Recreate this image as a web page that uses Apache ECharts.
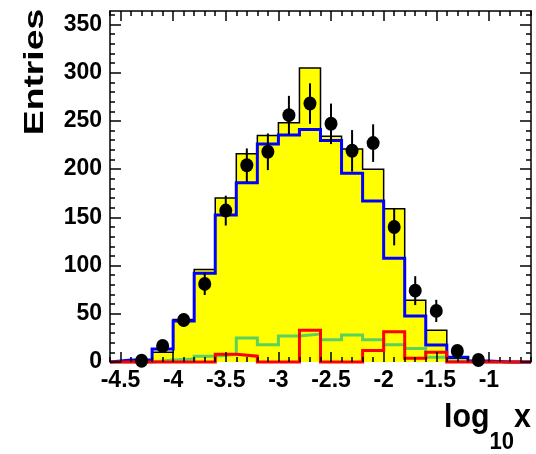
<!DOCTYPE html>
<html><head><meta charset="utf-8">
<script src="https://cdn.jsdelivr.net/npm/echarts@6/dist/echarts.min.js"></script>
<style>html,body{margin:0;padding:0;background:#fff}#c{width:536px;height:454px}</style>
</head><body><div id="c"></div>
<script>
// bin edges of log10(x) histogram (20 bins)
const binEdges = [-4.6,-4.4,-4.2,-4.0,-3.8,-3.6,-3.4,-3.2,-3.0,-2.8,-2.6,-2.4,-2.2,-2.0,-1.8,-1.6,-1.4,-1.2,-1.0,-0.8,-0.6];
// histogram contents per bin
const yellowHist = [0,1,10,44,96,170,216,235,248,305,234,221,200,159,64,33,4,1,0,0];
const blueHist   = [2,2,13.5,42.5,92,152.5,186,226,235.5,241,229.6,195.7,167,107.6,47.7,17.6,5,1,0,0];
const greenHist  = [0,0,2,3,6,8,25,18,27,29,23,28,23,18,14,5,1,0,0,0];
const redHist    = [0,0,0,0,0,8,6,0,0,33,0,0,12,31.5,4,10,0,0,0,0];
// data points (bin centres), values and errors
const dataX   = [-4.3,-4.1,-3.9,-3.7,-3.5,-3.3,-3.1,-2.9,-2.7,-2.5,-2.3,-2.1,-1.9,-1.7,-1.5,-1.3,-1.1];
const dataY   = [1.3,16.6,43.6,81,157,204,218,256,268,247,219,227,140,74,53,11.4,2];
const dataErr = [1,4,7,11.5,15.5,17.5,19,20,21,21,21.5,19.5,19,15,11.5,4,1.5];
// axis ticks
const xTicks = [-4.5,-4,-3.5,-3,-2.5,-2,-1.5,-1];
const yTicks = [0,50,100,150,200,250,300,350];
const xRange = [-4.6, -0.6];
const yRange = [0, 364];

function stepData(vals) {
  const out = [[binEdges[0], 0]];
  for (let i = 0; i < vals.length; i++) out.push([binEdges[i], vals[i]]);
  out.push([binEdges[binEdges.length - 1], vals[vals.length - 1]]);
  out.push([binEdges[binEdges.length - 1], 0]);
  return out;
}
const xMinor = [];
for (let k = -46; k <= -6; k++) xMinor.push(k / 10);
const yMinor = [];
for (let v = 0; v <= 360; v += 10) yMinor.push(v);

const FONT = "'Liberation Sans', Arial, Helvetica, sans-serif";
const tickLine = { color: '#000', width: 1.5 };

function xAx(pos, ticks, len, showLine, showLabel) {
  return {
    type: 'value', position: pos, min: xRange[0], max: xRange[1], z: 10,
    axisLine: { show: showLine, onZero: false, lineStyle: { color: '#000', width: 1.5 } },
    axisTick: { show: true, inside: true, length: len, customValues: ticks, lineStyle: tickLine },
    axisLabel: showLabel ? {
      show: true, customValues: ticks, color: '#000', fontFamily: FONT, fontWeight: 'bold',
      fontSize: 23, margin: 7
    } : { show: false },
    splitLine: { show: false }
  };
}
function yAx(pos, ticks, len, showLine, showLabel) {
  return {
    type: 'value', position: pos, min: yRange[0], max: yRange[1], z: 10,
    axisLine: { show: showLine, onZero: false, lineStyle: { color: '#000', width: 1.5 } },
    axisTick: { show: true, inside: true, length: len, customValues: ticks, lineStyle: tickLine },
    axisLabel: showLabel ? {
      show: true, customValues: ticks, color: '#000', fontFamily: FONT, fontWeight: 'bold',
      fontSize: 23, margin: 8
    } : { show: false },
    splitLine: { show: false }
  };
}

function histLine(name, vals, color, width, z, area) {
  const s = {
    name: name, type: 'line', step: 'end', data: stepData(vals), showSymbol: false,
    symbol: 'none', clip: false, z: z, silent: true,
    lineStyle: { color: color, width: width, join: 'miter', cap: 'butt' }
  };
  if (area) s.areaStyle = { color: area, opacity: 1 };
  return s;
}

const chart = echarts.init(document.getElementById('c'), null, { renderer: 'canvas' });
chart.setOption({
  animation: false,
  backgroundColor: '#fff',
  grid: { left: 110, right: 5, top: 11, bottom: 92, containLabel: false },
  xAxis: [
    xAx('bottom', xTicks, 10, false, true),
    xAx('top', xTicks, 10, true, false),
    xAx('bottom', xMinor, 5, false, false),
    xAx('top', xMinor, 5, false, false)
  ],
  yAxis: [
    yAx('left', yTicks, 11, true, true),
    yAx('right', yTicks, 11, true, false),
    yAx('left', yMinor, 5, false, false),
    yAx('right', yMinor, 5, false, false)
  ],
  series: [
    histLine('total', yellowHist, '#000', 1.5, 1, '#ffff00'),
    histLine('green', greenHist, '#5cd25c', 3, 2),
    histLine('blue', blueHist, '#0000ff', 3, 3),
    histLine('red', redHist, '#ff0000', 3, 4),
    {
      name: 'errors', type: 'custom', z: 5, silent: true,
      data: dataX.map((x, i) => [x, dataY[i], dataErr[i]]),
      encode: { x: 0, y: 1 },
      renderItem: function (params, api) {
        const x = api.value(0), y = api.value(1), e = api.value(2);
        const p1 = api.coord([x, y - e]), p2 = api.coord([x, y + e]);
        return { type: 'line', shape: { x1: p1[0], y1: p1[1], x2: p2[0], y2: p2[1] },
                 style: { stroke: '#000', lineWidth: 2 } };
      }
    },
    {
      name: 'data', type: 'scatter', z: 6, silent: true,
      data: dataX.map((x, i) => [x, dataY[i]]),
      symbol: 'circle', symbolSize: [13, 14],
      itemStyle: { color: '#000', opacity: 1 }
    }
  ],
  graphic: [
    {
      type: 'text', x: 36, y: 72, rotation: Math.PI / 2, scaleX: 1.38,
      style: { text: 'Entries', fontFamily: FONT, fontWeight: 'bold', fontSize: 27,
               fill: '#000', align: 'center', verticalAlign: 'middle' }
    },
    {
      type: 'text', x: 531, y: 401.5, scaleX: 0.92,
      style: {
        text: '{a|log}{s|10}{a|x}', align: 'right', verticalAlign: 'top', fill: '#000',
        rich: {
          a: { fontFamily: FONT, fontWeight: 'bold', fontSize: 33, lineHeight: 36, verticalAlign: 'top', fill: '#000' },
          s: { fontFamily: "'Liberation Sans Narrow', " + FONT, fontWeight: 'bold', fontSize: 24, lineHeight: 24, padding: [29, 0, 0, 0], verticalAlign: 'top', fill: '#000' }
        }
      }
    }
  ]
});
</script>
</body></html>
